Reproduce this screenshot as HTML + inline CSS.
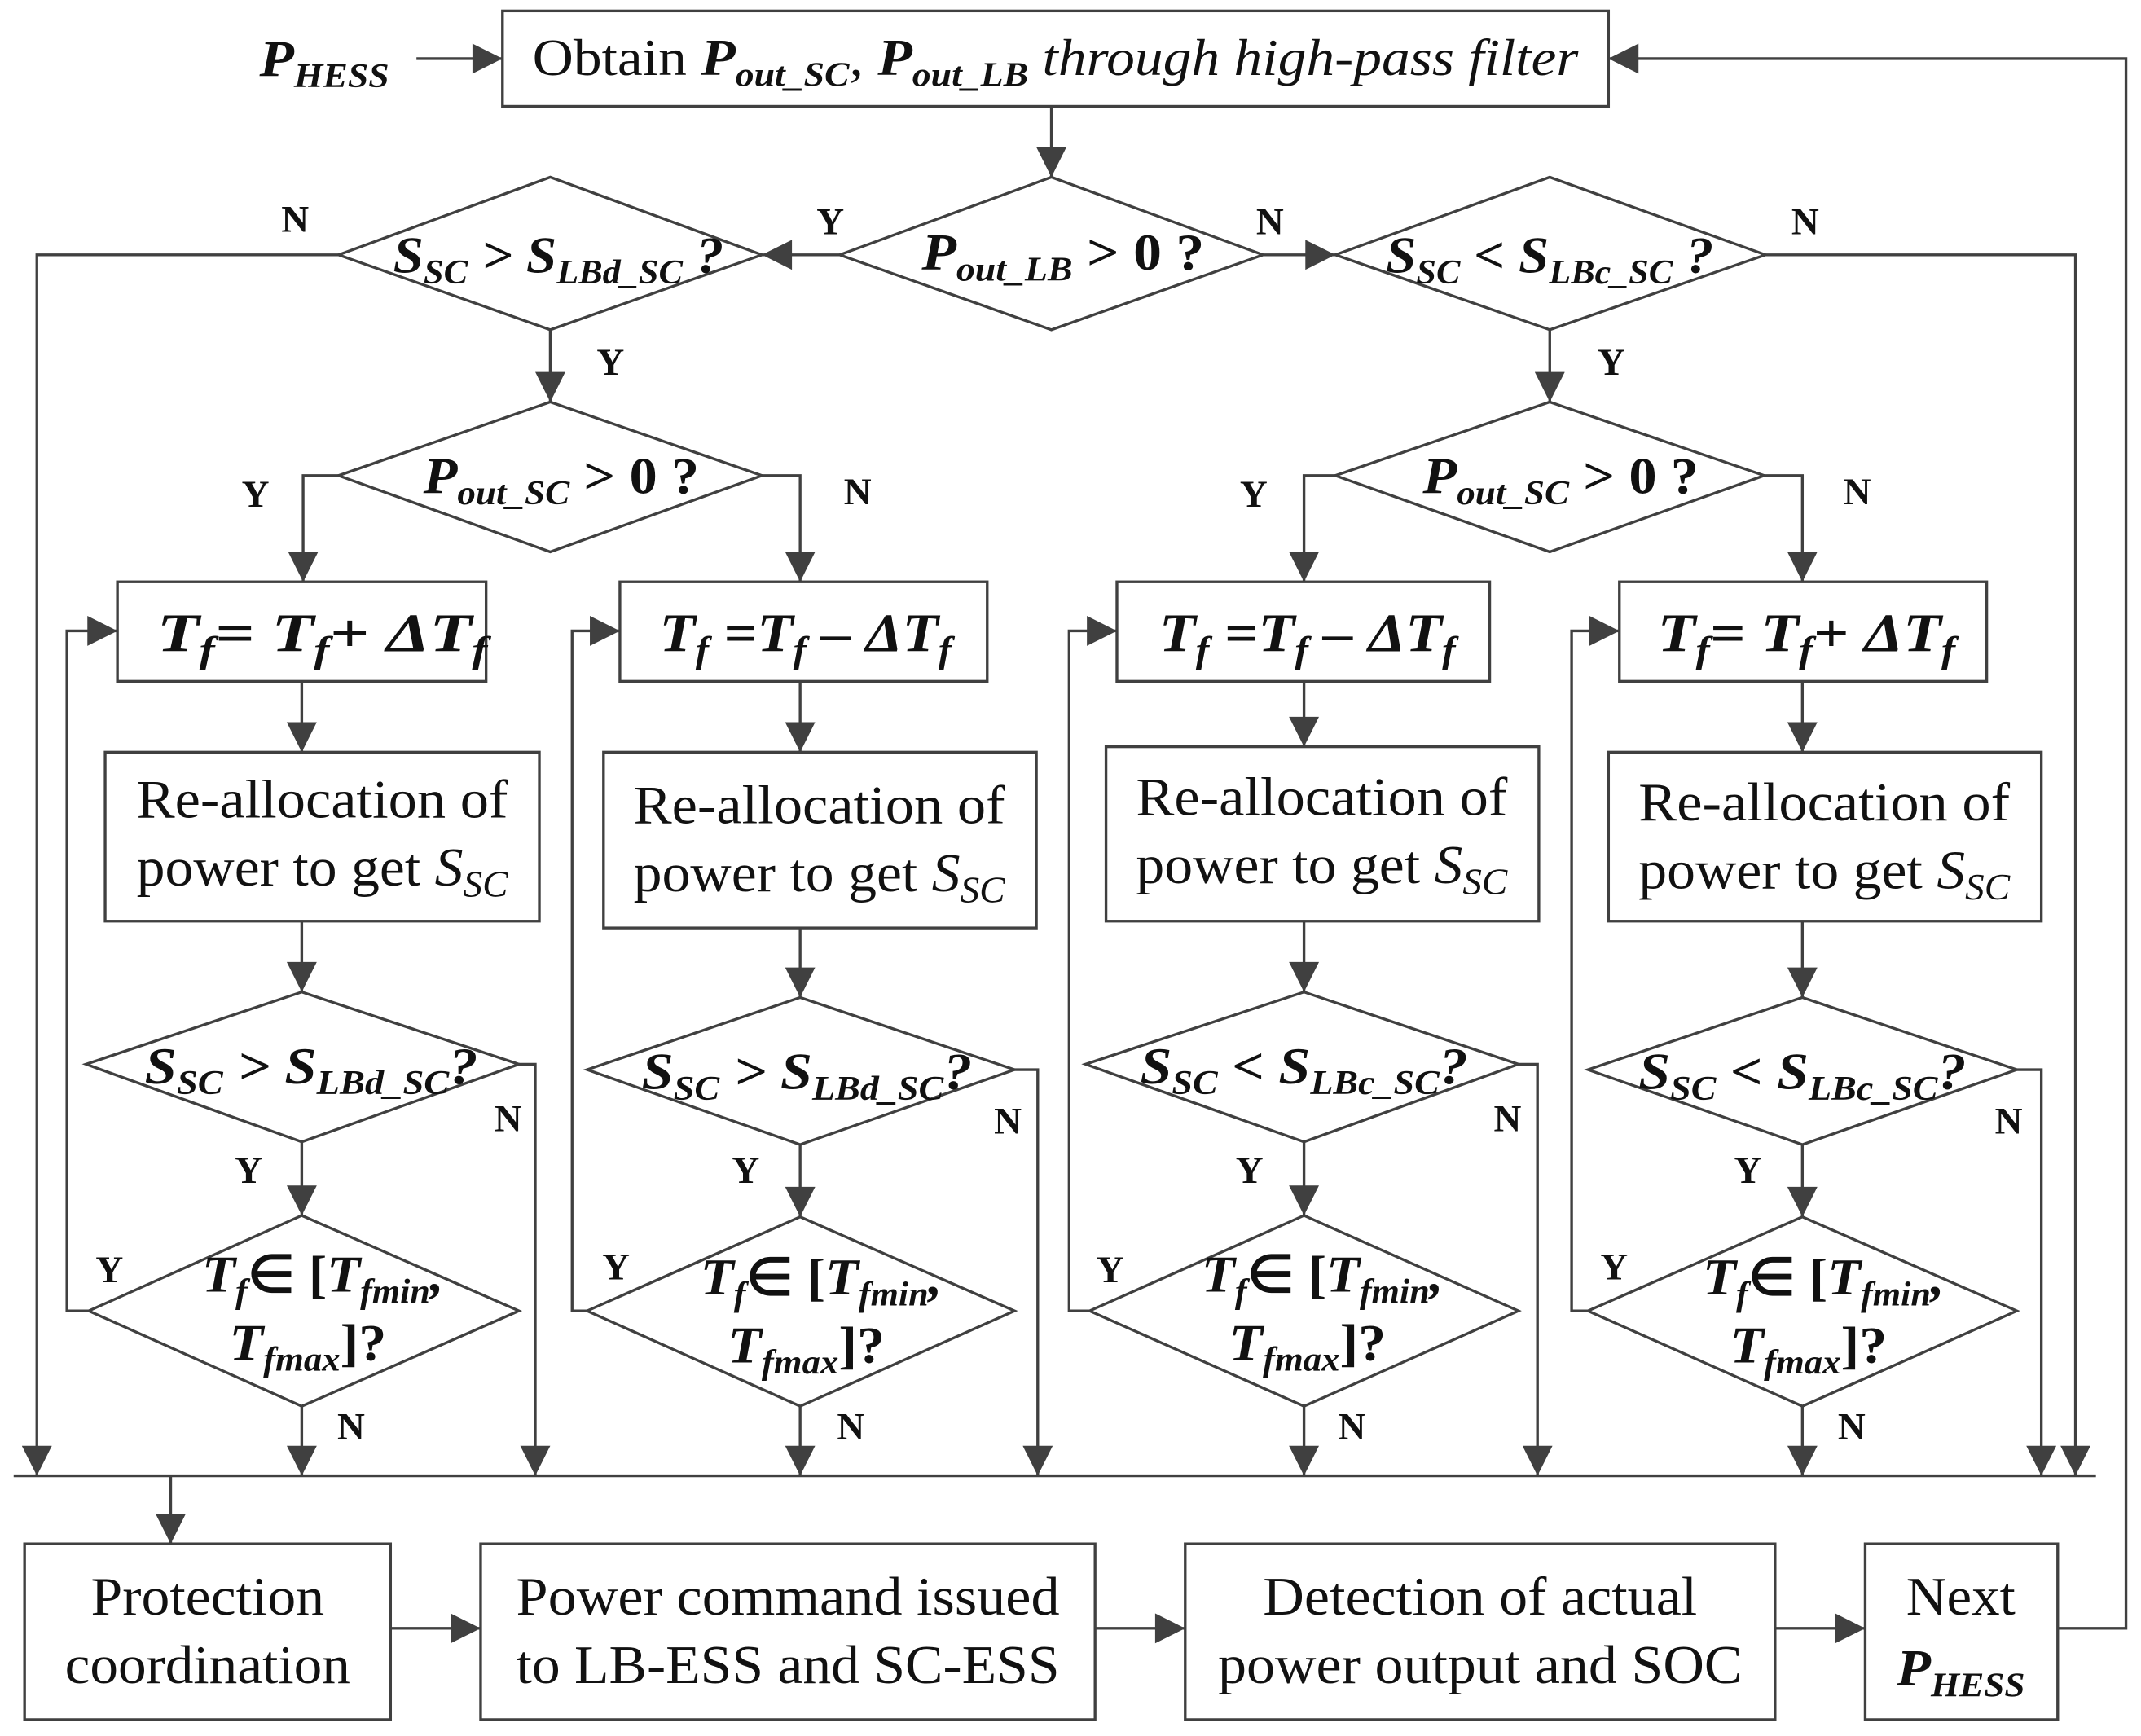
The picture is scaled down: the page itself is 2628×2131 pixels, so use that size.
<!DOCTYPE html>
<html><head><meta charset="utf-8"><style>html,body{margin:0;padding:0;background:#fff}svg{display:block}</style></head>
<body>
<svg width="2628" height="2131" viewBox="0 0 1568 1274" preserveAspectRatio="none" xmlns="http://www.w3.org/2000/svg" font-family="Liberation Serif, serif">
<defs><marker id="b" viewBox="0 0 10 10" refX="10" refY="5" markerWidth="26" markerHeight="22" markerUnits="userSpaceOnUse" orient="auto"><path d="M0,0 L10,5 L0,10 z" fill="#404040"/></marker></defs>
<g fill="none" stroke="#404040" stroke-width="2">
<rect x="368" y="8" width="810" height="70"/>
<rect x="86" y="427" width="270" height="73"/><rect x="454" y="427" width="269" height="73"/><rect x="818" y="427" width="273" height="73"/><rect x="1186" y="427" width="269" height="73"/>
<rect x="77" y="552" width="318" height="124"/><rect x="442" y="552" width="317" height="129"/><rect x="810" y="548" width="317" height="128"/><rect x="1178" y="552" width="317" height="124"/>
<rect x="18" y="1133" width="268" height="129"/><rect x="352" y="1133" width="450" height="129"/><rect x="868" y="1133" width="432" height="129"/><rect x="1366" y="1133" width="141" height="129"/>
<polygon points="615,187 770,130 925,187 770,242"/>
<polygon points="248,187 403,130 558,187 403,242"/>
<polygon points="978,187 1135,130 1293,187 1135,242"/>
<polygon points="248,349 403,295 558,349 403,405"/>
<polygon points="978,349 1135,295 1292,349 1135,405"/>
<polygon points="63,781 221,728 380,781 221,838"/><polygon points="65,962 221,892 380,962 221,1032"/>
<polygon points="430,785 586,732 743,785 586,840"/><polygon points="430,962 586,893 743,962 586,1032"/>
<polygon points="795,781 955,728 1112,781 955,838"/><polygon points="798,962 955,892 1112,962 955,1032"/>
<polygon points="1163,785 1320,732 1477,785 1320,840"/><polygon points="1163,962 1320,893 1477,962 1320,1032"/>
<line x1="10" y1="1083" x2="1535" y2="1083"/>
</g>
<g fill="none" stroke="#404040" stroke-width="2" marker-end="url(#b)">
<line x1="305" y1="43" x2="368" y2="43"/>
<polyline points="1507,1195 1557,1195 1557,43 1178,43"/>
<line x1="770" y1="78" x2="770" y2="130"/>
<line x1="615" y1="187" x2="558" y2="187"/>
<line x1="925" y1="187" x2="978" y2="187"/>
<polyline points="248,187 27,187 27,1083"/>
<polyline points="1293,187 1520,187 1520,1083"/>
<line x1="403" y1="242" x2="403" y2="295"/>
<line x1="1135" y1="242" x2="1135" y2="295"/>
<polyline points="248,349 222,349 222,427"/>
<polyline points="558,349 586,349 586,427"/>
<polyline points="978,349 955,349 955,427"/>
<polyline points="1292,349 1320,349 1320,427"/>
<line x1="221" y1="500" x2="221" y2="552"/><line x1="221" y1="676" x2="221" y2="728"/><line x1="221" y1="838" x2="221" y2="892"/><line x1="221" y1="1032" x2="221" y2="1083"/>
<polyline points="65,962 49,962 49,463 86,463"/><polyline points="380,781 392,781 392,1083"/>
<line x1="586" y1="500" x2="586" y2="552"/><line x1="586" y1="681" x2="586" y2="732"/><line x1="586" y1="840" x2="586" y2="893"/><line x1="586" y1="1032" x2="586" y2="1083"/>
<polyline points="430,962 419,962 419,463 454,463"/><polyline points="743,785 760,785 760,1083"/>
<line x1="955" y1="500" x2="955" y2="548"/><line x1="955" y1="676" x2="955" y2="728"/><line x1="955" y1="838" x2="955" y2="892"/><line x1="955" y1="1032" x2="955" y2="1083"/>
<polyline points="798,962 783,962 783,463 818,463"/><polyline points="1112,781 1126,781 1126,1083"/>
<line x1="1320" y1="500" x2="1320" y2="552"/><line x1="1320" y1="676" x2="1320" y2="732"/><line x1="1320" y1="840" x2="1320" y2="893"/><line x1="1320" y1="1032" x2="1320" y2="1083"/>
<polyline points="1163,962 1151,962 1151,463 1186,463"/><polyline points="1477,785 1495,785 1495,1083"/>
<line x1="125" y1="1083" x2="125" y2="1133"/>
<line x1="286" y1="1195" x2="352" y2="1195"/><line x1="802" y1="1195" x2="868" y2="1195"/><line x1="1300" y1="1195" x2="1366" y2="1195"/>
</g>
<g fill="#111" font-size="38">
<text x="190" y="56" font-weight="bold" font-style="italic" textLength="95" lengthAdjust="spacingAndGlyphs">P<tspan dy="8" font-size="25">HESS</tspan></text>
<text x="390" y="55" textLength="766" lengthAdjust="spacingAndGlyphs">Obtain <tspan font-weight="bold" font-style="italic">P</tspan><tspan dy="8" font-size="25" font-weight="bold" font-style="italic">out_SC</tspan><tspan dy="-8">, </tspan><tspan font-weight="bold" font-style="italic">P</tspan><tspan dy="8" font-size="25" font-weight="bold" font-style="italic">out_LB</tspan><tspan dy="-8" font-style="italic"> through high-pass filter</tspan></text>
<g font-weight="bold" font-style="italic" font-size="38">
<text x="675" y="198" textLength="207" lengthAdjust="spacingAndGlyphs">P<tspan dy="8" font-size="25">out_LB</tspan><tspan dy="-8" font-style="normal"> &gt; 0 ?</tspan></text>
<text x="288" y="200" textLength="242" lengthAdjust="spacingAndGlyphs">S<tspan dy="8" font-size="25">SC</tspan><tspan dy="-8"> &gt; S</tspan><tspan dy="8" font-size="25">LBd_SC</tspan><tspan dy="-8"> ?</tspan></text>
<text x="1015" y="200" textLength="240" lengthAdjust="spacingAndGlyphs">S<tspan dy="8" font-size="25">SC</tspan><tspan dy="-8"> &lt; S</tspan><tspan dy="8" font-size="25">LBc_SC</tspan><tspan dy="-8"> ?</tspan></text>
<text x="310" y="362" textLength="202" lengthAdjust="spacingAndGlyphs">P<tspan dy="8" font-size="25">out_SC</tspan><tspan dy="-8" font-style="normal"> &gt; 0 ?</tspan></text>
<text x="1042" y="362" textLength="202" lengthAdjust="spacingAndGlyphs">P<tspan dy="8" font-size="25">out_SC</tspan><tspan dy="-8" font-style="normal"> &gt; 0 ?</tspan></text>
<text x="115" y="478" font-size="40" textLength="242" lengthAdjust="spacingAndGlyphs">T<tspan dy="8" font-size="27">f</tspan><tspan dy="-8">= T</tspan><tspan dy="8" font-size="27">f</tspan><tspan dy="-8">+ ΔT</tspan><tspan dy="8" font-size="27">f</tspan></text>
<text x="483" y="478" font-size="40" textLength="214" lengthAdjust="spacingAndGlyphs">T<tspan dy="8" font-size="27">f</tspan><tspan dy="-8"> =T</tspan><tspan dy="8" font-size="27">f</tspan><tspan dy="-8"> – ΔT</tspan><tspan dy="8" font-size="27">f</tspan></text>
<text x="849" y="478" font-size="40" textLength="217" lengthAdjust="spacingAndGlyphs">T<tspan dy="8" font-size="27">f</tspan><tspan dy="-8"> =T</tspan><tspan dy="8" font-size="27">f</tspan><tspan dy="-8"> – ΔT</tspan><tspan dy="8" font-size="27">f</tspan></text>
<text x="1214" y="478" font-size="40" textLength="218" lengthAdjust="spacingAndGlyphs">T<tspan dy="8" font-size="27">f</tspan><tspan dy="-8">= T</tspan><tspan dy="8" font-size="27">f</tspan><tspan dy="-8">+ ΔT</tspan><tspan dy="8" font-size="27">f</tspan></text>
<text x="106" y="795" textLength="244" lengthAdjust="spacingAndGlyphs">S<tspan dy="8" font-size="25">SC</tspan><tspan dy="-8"> &gt; S</tspan><tspan dy="8" font-size="25">LBd_SC</tspan><tspan dy="-8">?</tspan></text>
<text x="470" y="799" textLength="242" lengthAdjust="spacingAndGlyphs">S<tspan dy="8" font-size="25">SC</tspan><tspan dy="-8"> &gt; S</tspan><tspan dy="8" font-size="25">LBd_SC</tspan><tspan dy="-8">?</tspan></text>
<text x="835" y="795" textLength="240" lengthAdjust="spacingAndGlyphs">S<tspan dy="8" font-size="25">SC</tspan><tspan dy="-8"> &lt; S</tspan><tspan dy="8" font-size="25">LBc_SC</tspan><tspan dy="-8">?</tspan></text>
<text x="1200" y="799" textLength="240" lengthAdjust="spacingAndGlyphs">S<tspan dy="8" font-size="25">SC</tspan><tspan dy="-8"> &lt; S</tspan><tspan dy="8" font-size="25">LBc_SC</tspan><tspan dy="-8">?</tspan></text>
<text x="148" y="948" textLength="177" lengthAdjust="spacingAndGlyphs">T<tspan dy="8" font-size="25">f</tspan><tspan dy="-8" font-style="normal">∈ [</tspan><tspan>T</tspan><tspan dy="8" font-size="25">fmin</tspan><tspan dy="-8">,</tspan></text><text x="168" y="998" textLength="115" lengthAdjust="spacingAndGlyphs">T<tspan dy="8" font-size="25">fmax</tspan><tspan dy="-8" font-style="normal">]?</tspan></text>
<text x="513" y="950" textLength="177" lengthAdjust="spacingAndGlyphs">T<tspan dy="8" font-size="25">f</tspan><tspan dy="-8" font-style="normal">∈ [</tspan><tspan>T</tspan><tspan dy="8" font-size="25">fmin</tspan><tspan dy="-8">,</tspan></text><text x="533" y="1000" textLength="115" lengthAdjust="spacingAndGlyphs">T<tspan dy="8" font-size="25">fmax</tspan><tspan dy="-8" font-style="normal">]?</tspan></text>
<text x="880" y="948" textLength="177" lengthAdjust="spacingAndGlyphs">T<tspan dy="8" font-size="25">f</tspan><tspan dy="-8" font-style="normal">∈ [</tspan><tspan>T</tspan><tspan dy="8" font-size="25">fmin</tspan><tspan dy="-8">,</tspan></text><text x="900" y="998" textLength="115" lengthAdjust="spacingAndGlyphs">T<tspan dy="8" font-size="25">fmax</tspan><tspan dy="-8" font-style="normal">]?</tspan></text>
<text x="1247" y="950" textLength="177" lengthAdjust="spacingAndGlyphs">T<tspan dy="8" font-size="25">f</tspan><tspan dy="-8" font-style="normal">∈ [</tspan><tspan>T</tspan><tspan dy="8" font-size="25">fmin</tspan><tspan dy="-8">,</tspan></text><text x="1267" y="1000" textLength="115" lengthAdjust="spacingAndGlyphs">T<tspan dy="8" font-size="25">fmax</tspan><tspan dy="-8" font-style="normal">]?</tspan></text>
<text x="1389" y="1237" textLength="94" lengthAdjust="spacingAndGlyphs">P<tspan dy="8" font-size="25">HESS</tspan></text>
</g>
<g font-size="40" text-anchor="middle">
<text x="236" y="600" textLength="272" lengthAdjust="spacingAndGlyphs">Re-allocation of</text><text x="236" y="650" textLength="272" lengthAdjust="spacingAndGlyphs">power to get <tspan font-style="italic">S</tspan><tspan dy="8" font-size="27" font-style="italic">SC</tspan></text>
<text x="600" y="604" textLength="272" lengthAdjust="spacingAndGlyphs">Re-allocation of</text><text x="600" y="654" textLength="272" lengthAdjust="spacingAndGlyphs">power to get <tspan font-style="italic">S</tspan><tspan dy="8" font-size="27" font-style="italic">SC</tspan></text>
<text x="968" y="598" textLength="272" lengthAdjust="spacingAndGlyphs">Re-allocation of</text><text x="968" y="648" textLength="272" lengthAdjust="spacingAndGlyphs">power to get <tspan font-style="italic">S</tspan><tspan dy="8" font-size="27" font-style="italic">SC</tspan></text>
<text x="1336" y="602" textLength="272" lengthAdjust="spacingAndGlyphs">Re-allocation of</text><text x="1336" y="652" textLength="272" lengthAdjust="spacingAndGlyphs">power to get <tspan font-style="italic">S</tspan><tspan dy="8" font-size="27" font-style="italic">SC</tspan></text>
<text x="152" y="1185" textLength="171" lengthAdjust="spacingAndGlyphs">Protection</text><text x="152" y="1235" textLength="209" lengthAdjust="spacingAndGlyphs">coordination</text>
<text x="577" y="1185" textLength="398" lengthAdjust="spacingAndGlyphs">Power command issued</text><text x="577" y="1235" textLength="398" lengthAdjust="spacingAndGlyphs">to LB-ESS and SC-ESS</text>
<text x="1084" y="1185" textLength="318" lengthAdjust="spacingAndGlyphs">Detection of actual</text><text x="1084" y="1235" textLength="384" lengthAdjust="spacingAndGlyphs">power output and SOC</text>
<text x="1436" y="1185" textLength="80" lengthAdjust="spacingAndGlyphs">Next</text>
</g>
<g font-weight="bold" font-size="28">
<text x="206" y="170">N</text><text x="598" y="172">Y</text><text x="920" y="172">N</text><text x="1312" y="172">N</text>
<text x="437" y="275">Y</text><text x="1170" y="275">Y</text>
<text x="177" y="372">Y</text><text x="618" y="370">N</text><text x="908" y="372">Y</text><text x="1350" y="370">N</text>
<text x="362" y="830">N</text><text x="728" y="832">N</text><text x="1094" y="830">N</text><text x="1461" y="832">N</text>
<text x="172" y="868">Y</text><text x="536" y="868">Y</text><text x="905" y="868">Y</text><text x="1270" y="868">Y</text>
<text x="70" y="941">Y</text><text x="441" y="939">Y</text><text x="803" y="941">Y</text><text x="1172" y="939">Y</text>
<text x="247" y="1056">N</text><text x="613" y="1056">N</text><text x="980" y="1056">N</text><text x="1346" y="1056">N</text>
</g>
</g>
</svg>
</body></html>
